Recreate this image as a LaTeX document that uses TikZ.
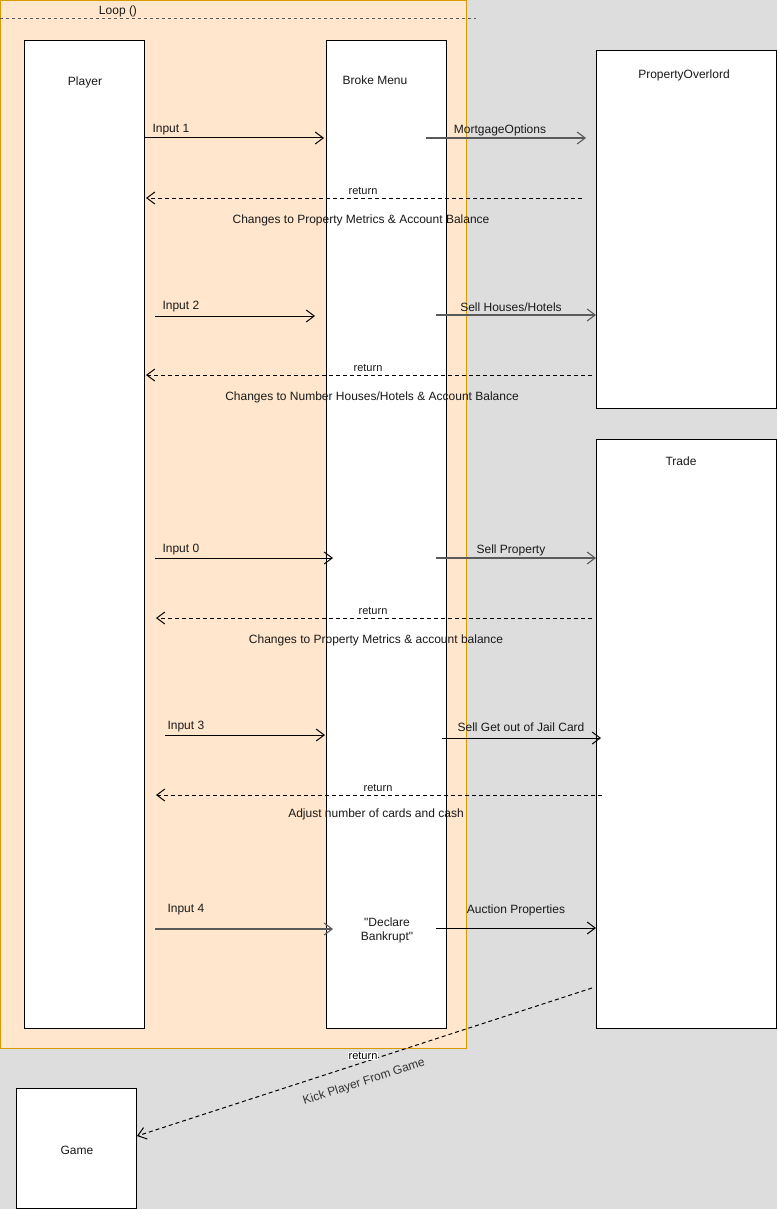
\documentclass[tikz,border=0pt]{standalone}
\usepackage{fontspec}
\setmainfont{Liberation Sans}
\newfontfamily\rawsans{Liberation Sans}
\usetikzlibrary{arrows.meta}
\definecolor{canvas}{HTML}{DDDDDD}
\definecolor{loopfill}{HTML}{FFE6CC}
\definecolor{loopline}{HTML}{D79B00}
\definecolor{msggray}{HTML}{5A5A5A}
\begin{document}
\begin{tikzpicture}[x=0.75pt,y=-0.75pt,line width=0.75pt,
  every node/.style={font=\fontsize{9pt}{10.5pt}\selectfont, inner sep=0pt},
  lifeline/.style={draw=black, fill=white, anchor=north west},
  msg/.style={draw=black, -{Straight Barb[length=6pt,width=9pt]}},
  msggrey/.style={draw=msggray, line width=1.1pt, -{Straight Barb[length=6pt,width=9pt,line width=0.8pt]}},
  reply/.style={draw=black, dash pattern=on 3pt off 2.25pt, -{Straight Barb[length=6pt,width=9pt]}},
  lbl/.style={text=black!90},
  small/.style={font=\fontsize{8.25pt}{9.5pt}\selectfont}]
\useasboundingbox (0,0) rectangle (777,1209);
\fill[canvas] (0,0) rectangle (777,1209);

% loop fragment
\draw[loopline, fill=loopfill] (0,0.5) rectangle (466,1048);
\node[lbl] (looplbl) at (118,11) {Loop ()};
\coordinate (loopL) at (0,19);
\coordinate (loopR) at (476,19);
\draw[msggray, dash pattern=on 2.25pt off 2.25pt] (loopL) -- (loopR);

% participants
\node[lifeline, minimum width=90pt, minimum height=741pt] (player) at (24,40) {};
\node[lbl] (playerlbl) at (85,82) {Player};
\node[lifeline, minimum width=90pt, minimum height=741pt] (broke) at (326,40) {};
\node[lbl] (brokelbl) at (375,80) {Broke Menu};
\node[lifeline, minimum width=135pt, minimum height=268.5pt] (overlord) at (596,50) {};
\node[lbl] (overlordlbl) at (684,75) {PropertyOverlord};
\node[lifeline, minimum width=135pt, minimum height=441.75pt] (trade) at (596,439) {};
\node[lbl] (tradelbl) at (681,461) {Trade};
\node[lifeline, minimum width=90pt, minimum height=90pt] (game) at (16,1088) {};
\node[lbl] (gamelbl) at (77,1150) {Game};

% message end points
\coordinate (a1) at (144,138); \coordinate (b1) at (324,138);
\coordinate (a2) at (426,138); \coordinate (b2) at (586,138);
\coordinate (a3) at (582,198); \coordinate (b3) at (146,198);
\coordinate (a4) at (155,316); \coordinate (b4) at (315,316);
\coordinate (a5) at (436,315); \coordinate (b5) at (596,315);
\coordinate (a6) at (592,375); \coordinate (b6) at (146,375);
\coordinate (a7) at (155,558); \coordinate (b7) at (333,558);
\coordinate (a8) at (436,558); \coordinate (b8) at (596,558);
\coordinate (a9) at (592,618); \coordinate (b9) at (156,618);
\coordinate (a10) at (165,735); \coordinate (b10) at (325,735);
\coordinate (a11) at (442,738); \coordinate (b11) at (601,738);
\coordinate (a12) at (602,795); \coordinate (b12) at (156,795);
\coordinate (a13) at (155,929); \coordinate (b13) at (333,929);
\coordinate (a14) at (436,928); \coordinate (b14) at (596,928);
\coordinate (a15) at (592,988); \coordinate (b15) at (137,1136);

% messages
\draw[msg] (a1) -- (b1);
\node[lbl, anchor=west] (t1) at (152,130) {Input 1};
\draw[msggrey] (a2) -- (b2);
\node[lbl] (t2) at (500,130) {MortgageOptions};
\draw[reply] (a3) -- (b3);
\node[lbl, small] (t3) at (363,191) {return};
\node[lbl] (t3b) at (361,220) {Changes to Property Metrics \& Account Balance};

\draw[msg] (a4) -- (b4);
\node[lbl, anchor=west] (t4) at (162,307) {Input 2};
\draw[msggrey] (a5) -- (b5);
\node[lbl] (t5) at (511,307) {Sell Houses/Hotels};
\draw[reply] (a6) -- (b6);
\node[lbl, small] (t6) at (368,368) {return};
\node[lbl] (t6b) at (372,397) {Changes to Number Houses/Hotels \& Account Balance};

\draw[msg] (a7) -- (b7);
\node[lbl, anchor=west] (t7) at (162,550) {Input 0};
\draw[msggrey] (a8) -- (b8);
\node[lbl] (t8) at (511,550) {Sell Property};
\draw[reply] (a9) -- (b9);
\node[lbl, small] (t9) at (373,611) {return};
\node[lbl] (t9b) at (376,640) {Changes to Property Metrics \& account balance};

\draw[msg] (a10) -- (b10);
\node[lbl, anchor=west] (t10) at (167,727) {Input 3};
\draw[msg] (a11) -- (b11);
\node[lbl] (t11) at (521,727) {Sell Get out of Jail Card};
\draw[reply] (a12) -- (b12);
\node[lbl, small] (t12) at (378,788) {return};
\node[lbl] (t12b) at (376,814) {Adjust number of cards and cash};

\draw[msggrey] (a13) -- (b13);
\node[lbl, anchor=west] (t13) at (167,910) {Input 4};
\node[lbl, align=center, font=\rawsans\fontsize{9pt}{10.5pt}\selectfont] (bankrupt) at (387,930) {"Declare\\Bankrupt"};
\draw[msg] (a14) -- (b14);
\node[lbl] (t14) at (516,910) {Auction Properties};

\draw[reply] (a15) -- (b15);
\node[small, fill=white, inner sep=0.5pt] (t15) at (363,1056) {return};
\node[text=black!80, rotate=18] (t15b) at (364,1082) {Kick Player From Game};
\end{tikzpicture}
\end{document}
